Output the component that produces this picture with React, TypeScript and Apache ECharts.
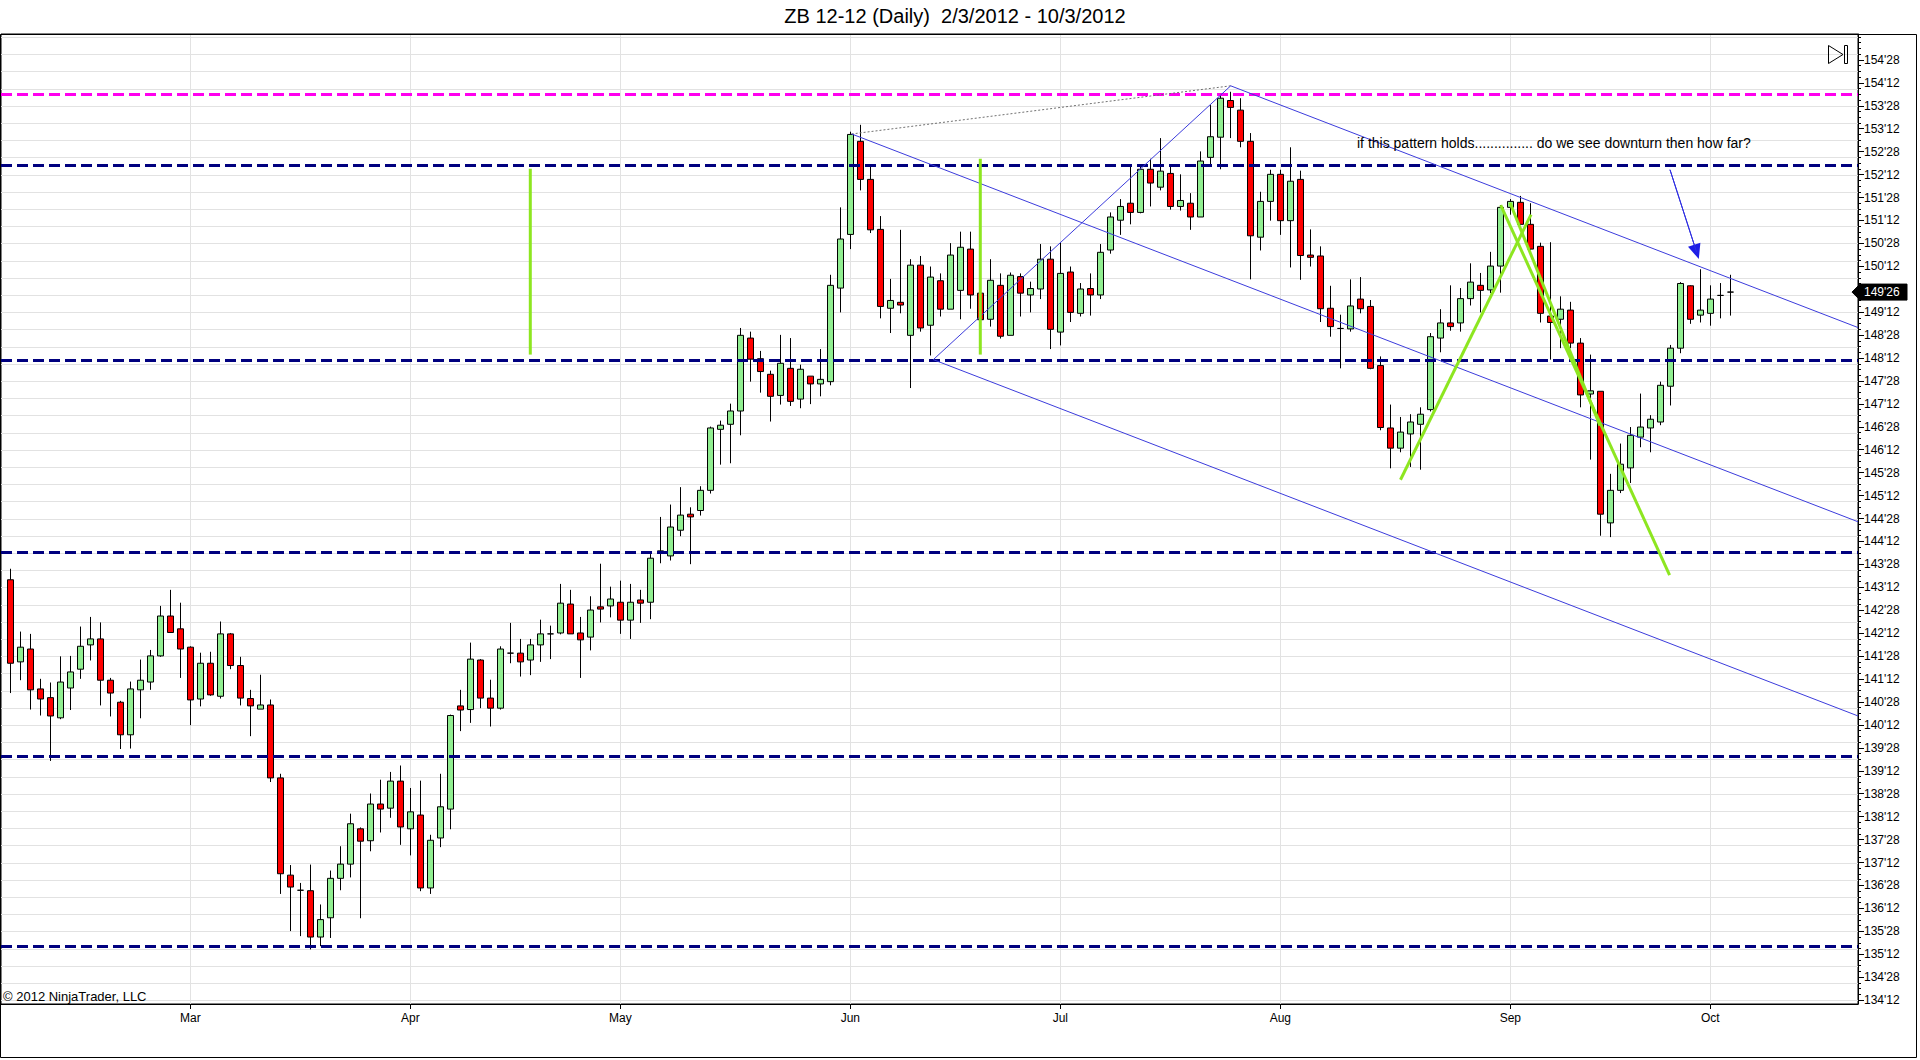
import React, { useEffect, useRef } from 'react';
import * as echarts from 'echarts';

// ---- Daily bars (index 0 = Feb 6 2012 ... index 172 = Oct 3 2012), prices in points ----
const OPEN = [
  143.54,141.75,142.03,141.16,140.97,140.53,141.18,141.59,142.12,142.25,
  141.35,140.87,140.16,141.14,141.31,141.88,142.75,142.47,142.07,140.94,
  141.72,141.00,142.36,141.67,140.95,140.72,140.81,139.22,137.10,136.77,
  136.76,135.75,136.17,137.03,137.34,138.11,137.85,138.65,138.56,139.15,
  138.11,138.41,136.82,137.91,138.54,140.79,140.71,141.79,140.96,140.74,
  141.94,141.94,141.79,142.12,142.36,142.38,143.01,142.38,142.29,142.95,
  142.97,143.05,142.66,143.10,143.05,144.14,144.06,144.62,144.97,145.05,
  145.49,146.82,146.93,147.22,148.81,148.36,148.02,147.56,148.15,147.48,
  147.98,147.81,147.86,149.90,151.07,153.10,152.27,151.18,149.46,149.59,
  148.87,150.40,149.09,150.06,149.44,149.85,150.75,149.79,149.22,149.96,
  148.87,150.15,149.75,149.88,150.53,148.94,150.25,149.35,149.89,149.75,
  150.73,151.38,151.75,151.55,152.49,152.10,152.40,151.68,151.75,151.45,
  152.75,153.19,153.99,153.78,153.10,151.01,151.79,152.38,151.37,152.27,
  150.62,150.60,149.46,149.02,149.01,149.66,149.50,148.21,146.85,146.41,
  146.72,146.93,147.25,148.81,149.14,149.14,149.67,149.96,149.86,150.38,
  151.66,151.77,151.29,150.81,149.29,149.22,149.42,148.70,147.59,147.65,
  144.78,145.49,145.98,146.65,146.85,146.98,147.76,148.59,149.95,149.31,
  149.35,149.74,149.8125
];
const CLOSE = [
  141.72,142.07,141.14,140.94,140.57,141.31,141.53,142.09,142.25,141.35,
  141.07,140.16,141.16,141.35,141.88,142.75,142.39,142.03,140.92,141.72,
  141.03,142.36,141.67,140.96,140.79,140.81,139.22,137.13,136.84,136.77,
  135.75,136.13,137.03,137.34,138.22,137.84,138.65,138.54,139.15,138.15,
  138.48,136.82,137.86,138.59,140.58,140.70,141.81,140.96,140.74,142.03,
  141.94,141.75,142.12,142.36,142.36,143.03,142.36,142.23,142.88,142.90,
  143.12,142.66,143.05,143.03,144.01,144.17,144.69,144.95,144.91,145.49,
  146.85,146.91,147.22,148.87,148.35,148.08,147.54,148.26,147.43,148.13,
  147.81,147.91,149.96,150.97,153.25,152.27,151.17,149.50,149.63,149.53,
  150.40,149.03,150.14,149.44,150.62,150.79,149.75,149.21,150.07,148.85,
  150.18,149.79,149.89,150.53,149.00,150.22,149.37,149.88,149.75,150.68,
  151.45,151.68,151.55,152.49,152.19,152.45,151.68,151.81,151.45,152.67,
  153.20,154.04,153.84,153.10,151.04,151.79,152.38,151.37,152.23,150.61,
  150.57,149.45,149.06,149.02,149.51,149.45,148.15,146.86,146.41,146.76,
  146.98,147.15,148.84,149.14,149.06,149.67,150.03,149.85,150.38,151.66,
  151.79,151.29,150.75,149.35,149.15,149.44,148.70,147.57,147.66,144.97,
  145.49,146.06,146.69,146.87,147.04,147.78,148.59,150.00,149.22,149.42,
  149.66,149.74,149.8125
];
const LOW = [
  141.07,141.35,140.71,140.58,139.59,140.50,140.70,141.38,141.78,140.80,
  140.56,139.85,139.86,140.52,141.14,141.86,142.38,141.40,140.37,140.78,
  141.01,140.95,141.59,140.80,140.13,140.72,139.13,136.69,135.88,135.77,
  135.48,135.55,135.73,136.77,137.05,136.16,137.62,138.03,138.35,137.76,
  137.53,136.75,136.69,137.71,138.10,140.24,140.42,140.74,140.34,140.71,
  141.72,141.43,141.46,141.75,141.81,142.35,142.36,141.40,142.00,142.61,
  142.72,142.36,142.25,142.60,142.68,143.90,143.96,144.49,143.88,144.94,
  145.42,146.05,146.08,146.69,147.86,147.62,146.99,147.36,147.33,147.28,
  147.37,147.54,147.78,149.37,150.75,152.03,151.10,149.24,148.92,149.35,
  147.72,148.95,148.43,149.28,149.44,149.22,149.45,149.13,149.06,148.80,
  148.87,149.28,149.37,149.66,148.57,148.65,149.16,149.28,149.30,149.66,
  150.65,151.06,151.29,151.53,151.68,152.03,151.61,151.59,151.17,151.45,
  152.59,152.49,153.17,152.97,150.09,150.72,151.37,151.06,150.35,150.08,
  150.37,149.16,148.84,148.15,148.95,149.35,148.13,146.80,145.97,146.32,
  146.00,145.94,147.21,148.50,148.97,148.95,149.52,149.37,149.79,149.80,
  151.50,151.28,150.73,149.15,148.34,148.59,148.59,147.30,146.16,144.50,
  144.47,145.43,145.65,146.43,146.32,146.91,147.34,148.48,149.12,149.15,
  149.08,149.24,149.30
];
const HIGH = [
  143.78,142.41,142.36,141.38,141.30,141.87,141.88,142.52,142.73,142.61,
  141.40,140.90,141.32,141.80,142.01,142.97,143.32,143.04,142.09,141.95,
  141.97,142.63,142.38,141.86,141.14,141.47,140.93,139.31,137.32,136.93,
  137.33,136.46,137.20,137.73,138.44,138.14,138.88,139.18,139.35,139.49,
  139.00,139.16,137.98,139.31,140.60,141.14,142.17,141.81,141.36,142.09,
  142.60,142.25,142.25,142.67,142.54,143.45,143.32,142.73,143.18,143.89,
  143.39,143.52,143.45,143.32,144.10,144.91,145.18,145.56,145.12,145.58,
  146.88,147.01,147.38,149.03,148.95,148.53,148.10,148.88,148.81,148.23,
  147.98,148.57,150.19,151.66,153.31,153.46,152.60,151.47,150.10,151.17,
  150.53,150.60,150.37,150.22,150.88,151.13,151.13,149.86,150.53,150.22,
  150.24,150.22,150.04,150.86,150.81,150.90,150.37,150.01,150.22,150.86,
  151.55,151.84,152.59,152.59,152.72,153.17,152.59,152.38,151.97,152.88,
  153.89,154.09,154.18,154.04,153.28,152.00,152.48,152.48,152.97,152.46,
  151.18,150.81,149.95,149.32,150.09,150.14,149.64,148.41,147.36,147.09,
  147.15,147.30,148.92,149.44,149.96,149.90,150.44,150.23,150.69,151.71,
  151.84,151.91,151.75,150.89,150.90,149.72,149.60,148.81,148.45,147.65,
  145.85,146.51,146.87,147.60,147.13,147.86,148.66,150.03,149.96,150.31,
  149.96,150.01,150.19
];

// month labels and the bar index of each month's first session
const MONTH_LABELS = ['Mar', 'Apr', 'May', 'Jun', 'Jul', 'Aug', 'Sep', 'Oct'];
const MONTH_START = [18, 40, 61, 84, 105, 127, 150, 170];

// price-axis labelled ticks (134'12 ... 154'28, every 16/32)
const Y_TICKS = [
  134.375, 134.875, 135.375, 135.875, 136.375, 136.875, 137.375, 137.875,
  138.375, 138.875, 139.375, 139.875, 140.375, 140.875, 141.375, 141.875,
  142.375, 142.875, 143.375, 143.875, 144.375, 144.875, 145.375, 145.875,
  146.375, 146.875, 147.375, 147.875, 148.375, 148.875, 149.375, 149.875,
  150.375, 150.875, 151.375, 151.875, 152.375, 152.875, 153.375, 153.875,
  154.375, 154.875
];
const MINOR_TICK_STEP = 0.125; // 4/32
const GRID_STEP = 0.375;       // 12/32 horizontal grid spacing

// horizontal support / resistance levels
const NAVY_LEVELS = [152.57, 148.33, 144.13, 139.70, 135.55];
const MAGENTA_LEVEL = 154.12;

// Andrews pitchfork anchors [bar index, price]
const PF_P0 = [84.14, 153.26];
const PF_P1 = [92.3, 148.34];
const PF_P2 = [122.04, 154.31];

// green vertical markers [bar index, top price, bottom price]
const GREEN_VERTICALS = [
  [52, 152.50, 148.45],
  [97, 152.72, 148.45]
];
// green trend lines [[index, price], [index, price]]
const GREEN_TRENDS = [
  [[139.02, 145.72], [152.07, 151.50]],
  [[149.04, 151.71], [165.93, 143.64]],
  [[149.97, 151.76], [158.97, 146.90]]
];
// blue arrow [start, end]
const ARROW = [[165.97, 152.48], [168.62, 150.69]];

const X_MIN = -0.93;
const X_MAX = 184.77;
const Y_MIN = 134.29;
const Y_MAX = 155.44;

const TITLE = 'ZB 12-12 (Daily)  2/3/2012 - 10/3/2012';
const NOTE = 'if this pattern holds............... do we see downturn then how far?';
const COPYRIGHT = '\u00A9 2012 NinjaTrader, LLC';

const FONT = '"Liberation Sans", Arial, sans-serif';

function fmt32(v: number): string {
  let w = Math.floor(v + 1e-9);
  let t = Math.round((v - w) * 32);
  if (t === 32) { w += 1; t = 0; }
  return `${w}'${String(t).padStart(2, '0')}`;
}

export default function App() {
  const ref = useRef<HTMLDivElement>(null);

  useEffect(() => {
    document.body.style.margin = '0';
    document.body.style.overflow = 'hidden';
    const chart = echarts.init(ref.current as HTMLDivElement, undefined, { renderer: 'svg' });
    const n = OPEN.length;
    const candles = OPEN.map((o, i) => [i, o, CLOSE[i], LOW[i], HIGH[i]]);

    const minorTicks: number[] = [];
    for (let v = Y_TICKS[0]; v <= Y_MAX + 1e-9; v += MINOR_TICK_STEP) minorTicks.push(Math.round(v * 1000) / 1000);
    const gridRows: number[] = [];
    for (let v = Y_TICKS[0]; v < Y_MAX; v += GRID_STEP) gridRows.push(Math.round(v * 1000) / 1000);

    const mid = [(PF_P1[0] + PF_P2[0]) / 2, (PF_P1[1] + PF_P2[1]) / 2];
    const slope = (mid[1] - PF_P0[1]) / (mid[0] - PF_P0[0]);
    const ray = (p: number[]) => [[p[0], p[1]], [X_MAX, p[1] + slope * (X_MAX - p[0])]];

    const lineSeries = (data: any[], color: string, width: number, type: any = 'solid', z = 6): any => ({
      type: 'line',
      data,
      showSymbol: false,
      symbol: 'none',
      silent: true,
      z,
      lineStyle: { color, width, type },
      animation: false
    });

    const BLUE = '#3c3cdc';
    const LIME = '#8de620';
    const GRID_COLOR = '#e2e2e2';

    const series: any[] = [
      {
        type: 'custom',
        z: 1,
        silent: true,
        data: gridRows.map((v) => [X_MIN, v]),
        encode: { x: 0, y: 1 },
        renderItem: (params: any, api: any) => {
          const cs = params.coordSys;
          const y = Math.round(api.coord([X_MIN, api.value(1)])[1]) + 0.5;
          return {
            type: 'line',
            shape: { x1: cs.x, y1: y, x2: cs.x + cs.width, y2: y },
            style: { stroke: GRID_COLOR, lineWidth: 1 }
          };
        }
      },
      {
        type: 'custom',
        z: 1,
        silent: true,
        data: MONTH_START.map((m) => [m, Y_MIN]),
        encode: { x: 0, y: 1 },
        renderItem: (params: any, api: any) => {
          const cs = params.coordSys;
          const x = Math.round(api.coord([api.value(0), Y_MIN])[0]) + 0.5;
          return {
            type: 'line',
            shape: { x1: x, y1: cs.y, x2: x, y2: cs.y + cs.height },
            style: { stroke: GRID_COLOR, lineWidth: 1 }
          };
        }
      },
      {
        type: 'candlestick',
        z: 3,
        data: candles,
        encode: { x: 0, y: [1, 2, 3, 4] },
        barWidth: 7,
        silent: true,
        itemStyle: {
          color: '#90ee90',
          color0: '#ff0000',
          borderColor: '#000000',
          borderColor0: '#000000',
          borderColorDoji: '#000000',
          borderWidth: 1
        }
      },
      {
        ...lineSeries([PF_P0, PF_P2], '#707070', 1, [2, 2], 6),
        markLine: {
          silent: true,
          symbol: ['none', 'none'],
          label: { show: false },
          animation: false,
          lineStyle: { type: [11, 5], width: 3 },
          data: [
            ...NAVY_LEVELS.map((v) => ({ yAxis: v, lineStyle: { color: '#00007f', width: 3, type: [11, 5] } })),
            { yAxis: MAGENTA_LEVEL, lineStyle: { color: '#ff00ee', width: 3, type: [11, 5] } }
          ]
        }
      },
      lineSeries(ray(PF_P0), BLUE, 1),
      lineSeries(ray(PF_P1), BLUE, 1),
      lineSeries(ray(PF_P2), BLUE, 1),
      lineSeries([PF_P1, PF_P2], BLUE, 1),
      ...GREEN_VERTICALS.map((g) => lineSeries([[g[0], g[1]], [g[0], g[2]]], LIME, 3, 'solid', 7)),
      ...GREEN_TRENDS.map((t) => lineSeries(t, LIME, 3, 'solid', 7)),
      {
        ...lineSeries(ARROW, '#3030e0', 1, 'solid', 8),
        markLine: {
          silent: true,
          symbol: ['none', 'triangle'],
          symbolSize: [13, 15],
          label: { show: false },
          animation: false,
          lineStyle: { color: '#1e1ee6', width: 1, type: 'solid' },
          data: [[{ coord: ARROW[0] }, { coord: ARROW[1] }]]
        }
      }
    ];

    const baseGraphic: any[] = [
      {
        type: 'text', x: 955, y: 16, silent: true,
        style: { text: TITLE, fontSize: 20, fontFamily: FONT, fill: '#000', align: 'center', verticalAlign: 'middle' }
      },
      {
        type: 'text', x: 3, y: 996.5, silent: true, z: 50,
        style: { text: COPYRIGHT, fontSize: 13, fontFamily: FONT, fill: '#000', verticalAlign: 'middle' }
      },
      {
        type: 'text', x: 1357, y: 143, silent: true, z: 50,
        style: { text: NOTE, fontSize: 14, fontFamily: FONT, fill: '#000', verticalAlign: 'middle' }
      },
      {
        type: 'polygon', silent: true, z: 50,
        shape: { points: [[1828.5, 45.5], [1843, 54.5], [1828.5, 63.5]] },
        style: { fill: 'none', stroke: '#000', lineWidth: 1 }
      },
      {
        type: 'rect', silent: true, z: 50,
        shape: { x: 1844.5, y: 45.5, width: 3, height: 18 },
        style: { fill: 'none', stroke: '#000', lineWidth: 1 }
      },
      {
        type: 'rect', silent: true, z: 50,
        shape: { x: 0.5, y: 34.5, width: 1916, height: 1023 },
        style: { fill: 'none', stroke: '#000', lineWidth: 1 }
      }
    ];

    chart.setOption({
      animation: false,
      backgroundColor: '#ffffff',
      textStyle: { fontFamily: FONT },
      grid: {
        left: 1, right: 62, top: 34, bottom: 56,
        show: true, borderColor: '#000', borderWidth: 1,
        containLabel: false,
        outerBoundsMode: 'none'
      },
      xAxis: {
        type: 'value',
        min: X_MIN,
        max: X_MAX,
        axisLine: { show: true, onZero: false, lineStyle: { color: '#000' } },
        axisTick: { show: true, customValues: MONTH_START, length: 5, lineStyle: { color: '#000' } },
        axisLabel: {
          customValues: MONTH_START,
          formatter: (v: number) => {
            const k = MONTH_START.indexOf(Math.round(v));
            return k >= 0 ? MONTH_LABELS[k] : '';
          },
          color: '#000', fontSize: 12, fontFamily: FONT, margin: 8
        },
        splitLine: { show: false },
        minorTick: { show: false },
        minorSplitLine: { show: false }
      },
      yAxis: [
        {
          type: 'value',
          position: 'right',
          min: Y_MIN,
          max: Y_MAX,
          axisLine: { show: true, onZero: false, lineStyle: { color: '#000' } },
          axisTick: { show: true, inside: false, customValues: Y_TICKS, length: 6, lineStyle: { color: '#000' } },
          minorTick: { show: false },
          axisLabel: {
            customValues: Y_TICKS,
            formatter: (v: number) => fmt32(v),
            color: '#000', fontSize: 12, fontFamily: FONT, margin: 6
          },
          splitLine: { show: false },
          minorSplitLine: { show: false }
        },
        {
          type: 'value',
          position: 'right',
          offset: 0,
          min: Y_MIN,
          max: Y_MAX,
          axisLine: { show: false, onZero: false },
          axisTick: { show: true, inside: false, customValues: minorTicks, length: 3, lineStyle: { color: '#000' } },
          minorTick: { show: false },
          axisLabel: { show: false },
          splitLine: { show: false },
          minorSplitLine: { show: false }
        }
      ],
      series,
      graphic: baseGraphic
    });

    const last = CLOSE[n - 1];
    const py = chart.convertToPixel({ yAxisIndex: 0 }, last) as number;
    chart.setOption({
      graphic: [
        ...baseGraphic,
        {
          type: 'polygon', silent: true, z: 60,
          shape: { points: [[1852, py], [1860, py - 8], [1907, py - 8], [1907, py + 8], [1860, py + 8]] },
          style: { fill: '#000', stroke: '#000' }
        },
        {
          type: 'text', x: 1864, y: py, silent: true, z: 61,
          style: { text: fmt32(last), fontSize: 12, fontFamily: FONT, fill: '#fff', verticalAlign: 'middle' }
        }
      ]
    });

    return () => { chart.dispose(); };
  }, []);

  return <div ref={ref} style={{ width: 1920, height: 1060 }} />;
}
